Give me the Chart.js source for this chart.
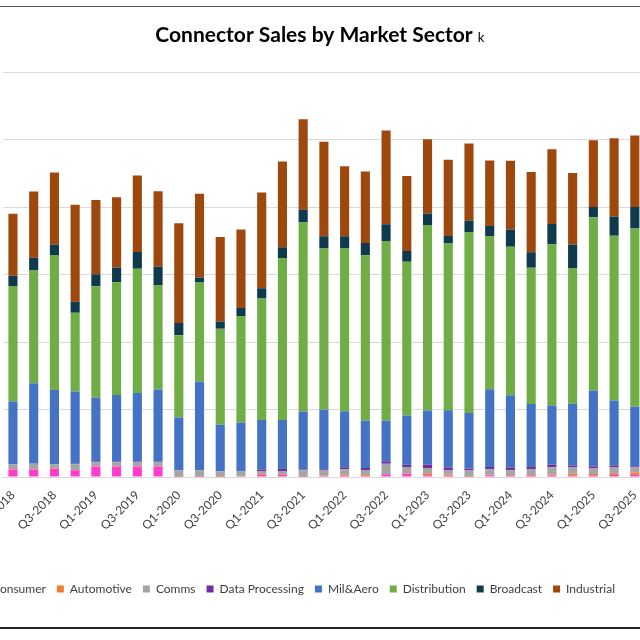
<!DOCTYPE html>
<html>
<head>
<meta charset="utf-8">
<title>Connector Sales by Market Sector</title>
<script src="https://cdn.jsdelivr.net/npm/chart.js@4.4.1/dist/chart.umd.min.js"></script>
<style>
    html, body { margin: 0; padding: 0; background: #fff; overflow: hidden; }
    body { width: 640px; height: 640px; position: relative; }
    #wrap { position: absolute; left: -40px; top: 0; width: 688px; height: 640px; }
    #frame { position: absolute; left: -10px; right: -10px; top: 6px; height: 620px;
             border-top: 1px solid #555; border-bottom: 2px solid #222; pointer-events: none; }
</style>
</head>
<body>
<div id="wrap"><canvas id="salesChart"></canvas></div>
<div id="frame"></div>
<script>
// Quarters shown on the x axis (every other one gets a label)
const quarters = [
    'Q1-2018', 'Q2-2018', 'Q3-2018', 'Q4-2018',
    'Q1-2019', 'Q2-2019', 'Q3-2019', 'Q4-2019',
    'Q1-2020', 'Q2-2020', 'Q3-2020', 'Q4-2020',
    'Q1-2021', 'Q2-2021', 'Q3-2021', 'Q4-2021',
    'Q1-2022', 'Q2-2022', 'Q3-2022', 'Q4-2022',
    'Q1-2023', 'Q2-2023', 'Q3-2023', 'Q4-2023',
    'Q1-2024', 'Q2-2024', 'Q3-2024', 'Q4-2024',
    'Q1-2025', 'Q2-2025', 'Q3-2025'
];

// Sales per sector (stacked bottom to top)
const consumer = [1.1, 1.1, 1.2, 1.0, 1.55, 1.55, 1.55, 1.55, 0.05, 0.05, 0.05, 0.1,
    0.3, 0.3, 0.05, 0.15, 0.2, 0.15, 0.4, 0.5, 0.25, 0.2, 0.05, 0.25,
    0.2, 0.2, 0.2, 0.2, 0.2, 0.3, 0.35];
const automotive = [0.05, 0.05, 0.05, 0.05, 0.05, 0.05, 0.05, 0.05, 0.05, 0.05, 0.05, 0.05,
    0.1, 0.1, 0.05, 0.05, 0.15, 0.1, 0.05, 0.05, 0.3, 0.15, 0.05, 0.1,
    0.1, 0.1, 0.15, 0.3, 0.25, 0.25, 0.3];
const comms = [0.7, 0.8, 0.6, 0.85, 0.6, 0.6, 0.6, 0.6, 0.85, 0.85, 0.7, 0.65,
    0.5, 0.5, 0.9, 0.75, 0.8, 0.8, 1.5, 0.95, 0.8, 0.6, 0.85, 0.8,
    0.7, 0.9, 1.1, 0.9, 0.8, 0.85, 0.75];
const dataProcessing = [0.05, 0.05, 0.05, 0.05, 0.05, 0.05, 0.05, 0.05, 0.05, 0.05, 0.05, 0.05,
    0.2, 0.3, 0.1, 0.2, 0.3, 0.3, 0.4, 0.3, 0.5, 0.45, 0.3, 0.35,
    0.4, 0.3, 0.35, 0.25, 0.3, 0.25, 0.2];
const milAero = [9.3, 11.9, 11.0, 10.7, 9.5, 9.9, 10.2, 10.7, 7.8, 13.1, 6.9, 7.2,
    7.35, 7.25, 8.6, 8.8, 8.3, 7.0, 6.0, 7.3, 8.0, 8.5, 8.25, 11.5,
    10.7, 9.3, 8.8, 9.2, 11.25, 9.7, 8.8];
const distribution = [17.1, 16.7, 20.0, 11.7, 16.5, 16.7, 18.4, 15.5, 12.2, 14.7, 14.2, 15.8,
    18.0, 24.0, 28.0, 23.9, 24.1, 24.5, 26.6, 22.8, 27.5, 24.7, 26.8, 22.7,
    22.0, 20.2, 23.9, 20.1, 25.7, 24.4, 26.4];
const broadcast = [1.5, 1.9, 1.5, 1.6, 1.8, 2.2, 2.5, 2.7, 1.8, 0.75, 1.1, 1.2,
    1.5, 1.6, 1.9, 1.8, 1.8, 1.8, 2.5, 1.6, 1.7, 1.1, 1.7, 1.5,
    2.55, 2.3, 3.0, 3.5, 1.5, 2.85, 3.2];
const industrial = [9.2, 9.8, 10.7, 14.4, 11.0, 10.4, 11.3, 11.2, 14.8, 12.4, 12.5, 11.6,
    14.2, 12.7, 13.4, 14.0, 10.4, 10.6, 13.9, 11.1, 11.0, 11.3, 11.4, 9.7,
    10.2, 11.9, 11.05, 10.6, 9.9, 11.6, 10.6];

const sectorNames = ['Consumer', 'Automotive', 'Comms', 'Data Processing',
    'Mil&Aero', 'Distribution', 'Broadcast', 'Industrial'];
const sectorValues = [consumer, automotive, comms, dataProcessing,
    milAero, distribution, broadcast, industrial];
const sectorColors = ['#ff3dc8', '#ed7d31', '#a5a5a5', '#7030a0',
    '#4472c4', '#70ad47', '#0f3a4e', '#9e480e'];

// Title drawn by hand so the trailing "k" can be smaller
const titlePlugin = {
    id: 'sectorTitle',
    afterDraw: function(chart) {
        const ctx = chart.ctx;
        const main = 'Connector Sales by Market Sector';
        ctx.save();
        ctx.fillStyle = '#000';
        ctx.textAlign = 'left';
        ctx.textBaseline = 'alphabetic';
        ctx.font = 'bold 21px Lato';
        const w = ctx.measureText(main).width;
        const cx = 354;
        ctx.fillText(main, cx - w / 2, 42);
        ctx.font = '13px Lato';
        ctx.fillText('k', cx + w / 2 + 5, 42);
        ctx.restore();
    }
};

const ctx = document.getElementById('salesChart').getContext('2d');
new Chart(ctx, {
    type: 'bar',
    data: {
        labels: quarters,
        datasets: sectorNames.map((name, i) => ({
            label: name,
            data: sectorValues[i],
            backgroundColor: sectorColors[i],
            borderWidth: 0,
            barPercentage: 0.44,
            categoryPercentage: 1.0
        }))
    },
    options: {
        responsive: true,
        maintainAspectRatio: false,
        animation: false,
        layout: { padding: { top: 72, left: 8, right: 0, bottom: 35 } },
        plugins: {
            title: { display: false },
            tooltip: { enabled: false },
            legend: {
                position: 'bottom',
                align: 'start',
                labels: {
                    boxWidth: 7,
                    boxHeight: 7,
                    padding: 11,
                    color: '#404040',
                    font: { family: 'Lato', size: 12 }
                }
            }
        },
        scales: {
            x: {
                stacked: true,
                grid: { display: false },
                border: { display: true, color: '#d9d9d9' },
                ticks: {
                    autoSkip: false,
                    minRotation: 45,
                    maxRotation: 45,
                    color: '#404040',
                    font: { family: 'Lato', size: 12 },
                    callback: function(value, index) {
                        return index % 2 === 0 ? this.getLabelForValue(value) : '';
                    }
                },
                afterFit: function(scale) { scale.height = 95; }
            },
            y: {
                stacked: true,
                min: 0,
                max: 60,
                ticks: { display: false, stepSize: 10 },
                grid: { color: '#d9d9d9', drawTicks: false },
                border: { display: false },
                afterFit: function(scale) { scale.width = 34.6; }
            }
        }
    },
    plugins: [titlePlugin]
});
</script>
</body>
</html>
